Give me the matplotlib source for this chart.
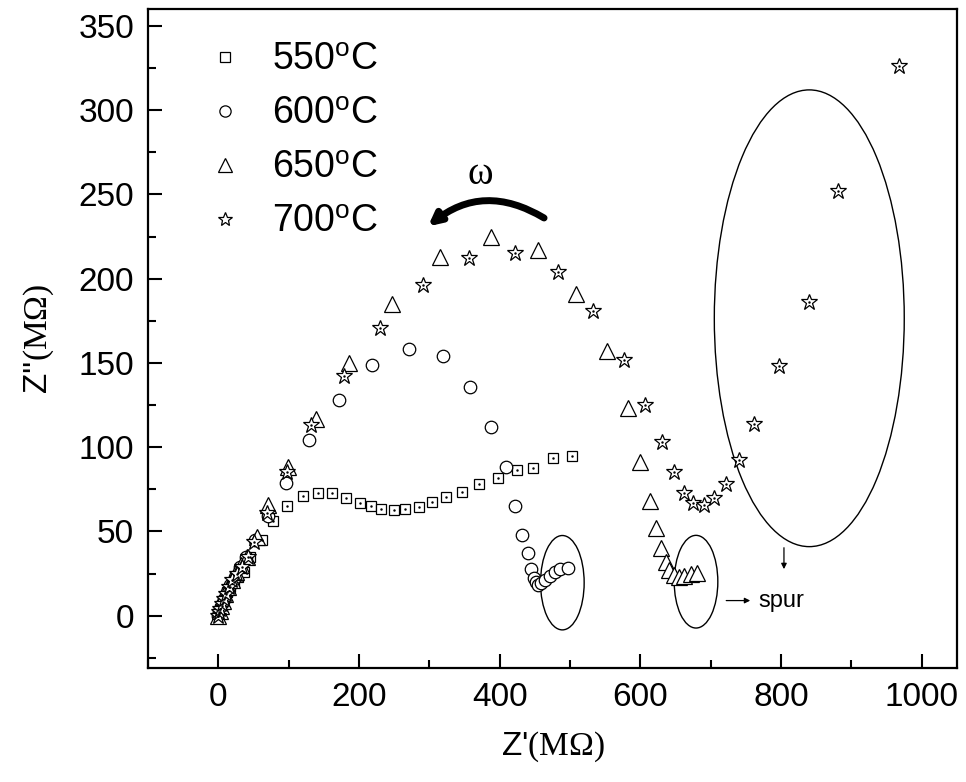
import matplotlib
matplotlib.use("Agg")
import matplotlib.pyplot as plt
from matplotlib.patches import Ellipse, FancyArrowPatch
from matplotlib.ticker import MultipleLocator

plt.rcParams['font.family'] = ['Liberation Sans', 'DejaVu Sans']
plt.rcParams['mathtext.fontset'] = 'custom'
plt.rcParams['mathtext.rm'] = 'Liberation Serif'
plt.rcParams['mathtext.sf'] = 'Liberation Sans'
plt.rcParams['mathtext.it'] = 'Liberation Serif:italic'

# Nyquist data, Z' and Z'' in MOhm
x550 = [0, 1, 2, 3, 5, 7, 10, 13, 17, 22, 28, 36, 45, 62, 78, 98, 120, 141, 162, 181,
        201, 217, 231, 249, 266, 285, 304, 324, 346, 370, 397, 424, 447, 475, 503]
y550 = [0, 1, 2.5, 4, 6, 8, 11, 14, 17, 20, 23, 26, 35, 45, 56, 65, 71, 73, 73, 70,
        67, 65, 63.4, 62.5, 63.3, 64.8, 67.4, 70.2, 73.4, 78, 81.7, 86.6, 87.4, 93.7, 94.5]

x600 = [0, 1, 3, 5, 8, 12, 17, 23, 31, 40, 52, 70, 96, 129, 171, 219, 271, 319, 358, 388,
        409, 422, 432, 440, 445, 448, 451, 454, 459, 464, 471, 478, 486, 497]
y600 = [0, 2, 4, 7, 10, 14, 18, 23, 29, 35, 45, 59, 79, 104, 128, 149, 158, 154, 136, 112,
        88, 65, 48, 37, 28, 22.4, 20, 18.4, 19.4, 21, 23.3, 25.7, 27.7, 28.6]

x650 = [0, 2, 4, 7, 10, 14, 19, 25, 32, 41, 55, 71, 99, 139, 186, 247, 315, 388, 455, 509,
        553, 582, 599, 613, 622, 629, 636, 641, 648, 655, 662, 672, 681]
y650 = [0, 3, 6, 9, 13, 17, 21, 26, 30, 35, 47, 66, 88, 117, 150, 185, 213, 225, 217, 191,
        157, 123, 91, 68, 52, 40, 32, 27, 24, 23, 23.5, 24.5, 25.5]

x700 = [0, 1, 3, 5, 8, 11, 15, 20, 26, 33, 42, 50, 69, 97, 132, 178, 230, 291, 356, 421,
        483, 533, 576, 607, 631, 647, 662, 675, 691, 705, 721, 740, 762, 797, 839, 881, 967]
y700 = [0, 2, 4, 7, 10, 13, 17, 21, 25, 29, 35, 44, 61, 85, 113, 142, 171, 196, 212, 215,
        204, 181, 152, 125, 103, 85, 73, 67, 66, 70, 78, 92.5, 114, 148, 186, 252, 326]

labels = ['550$^{\\mathsf{o}}$C', '600$^{\\mathsf{o}}$C', '650$^{\\mathsf{o}}$C', '700$^{\\mathsf{o}}$C']

fig = plt.figure(figsize=(9.66, 7.82), dpi=100)
ax = fig.add_axes([0.1532, 0.1458, 0.8375, 0.8427])

mk = dict(linestyle='none', mfc='white', mec='black', mew=0.9)
ax.plot(x550, y550, marker='s', ms=7.8, label=labels[0], **mk)
ax.plot(x600, y600, marker='o', ms=9, label=labels[1], **mk)
ax.plot(x650, y650, marker='^', ms=11, label=labels[2], **mk)
ax.plot(x700, y700, marker='*', ms=12, label=labels[3], **mk)
# centre dots of the square and star symbols
ax.plot(x550, y550, linestyle='none', marker='.', ms=1.5, color='black')
ax.plot(x700, y700, linestyle='none', marker='.', ms=1.5, color='black')

ax.set_xlim(-100, 1050)
ax.set_ylim(-31, 360)
ax.xaxis.set_major_locator(MultipleLocator(200))
ax.xaxis.set_minor_locator(MultipleLocator(100))
ax.yaxis.set_minor_locator(MultipleLocator(25))
ax.set_yticks([0, 50, 100, 150, 200, 250, 300, 350])
ax.tick_params(which='both', direction='in', top=False, right=False, width=1.5)
ax.tick_params(which='major', length=10, labelsize=24, pad=10)
ax.tick_params(which='minor', length=6)
for s in ax.spines.values():
    s.set_linewidth(1.6)

ax.set_xlabel("Z'$\\mathrm{(M\\Omega)}$", fontsize=24, labelpad=12)
ax.set_ylabel("Z''$\\mathrm{(M\\Omega)}$", fontsize=24, labelpad=16)

leg = ax.legend(loc='upper left', bbox_to_anchor=(0.042, 0.972), frameon=False, fontsize=27,
                handlelength=1.5, handletextpad=0.5, labelspacing=0.48,
                borderaxespad=0, markerscale=0.9)

# circled spur regions
for cx, cy, w, h in [(489, 19.6, 62, 56), (679, 20.2, 62, 55), (840, 176.5, 270, 271)]:
    ax.add_patch(Ellipse((cx, cy), w, h, fill=False, lw=1.0, color='black'))

ax.annotate('', xy=(804, 26), xytext=(804, 42),
            arrowprops=dict(arrowstyle='-|>', color='black', lw=0.9, mutation_scale=8))
ax.annotate('', xy=(760, 9), xytext=(718, 9),
            arrowprops=dict(arrowstyle='-|>', color='black', lw=0.9, mutation_scale=8))
ax.text(768, 9, 'spur', fontsize=17, va='center', ha='left')

# frequency direction arrow
ax.add_patch(FancyArrowPatch((463, 236), (298, 231), connectionstyle='arc3,rad=0.35',
                             arrowstyle='-|>', mutation_scale=18, lw=5, color='black',
                             shrinkA=0, shrinkB=0))
ax.text(372, 262, '\u03c9', fontsize=28, family='Liberation Serif', ha='center', va='center')

fig.savefig('out.png', dpi=100)
